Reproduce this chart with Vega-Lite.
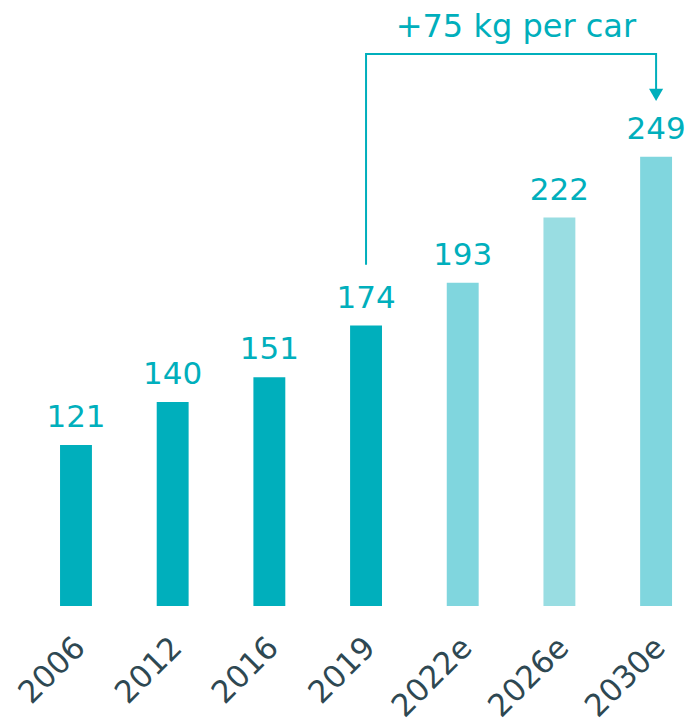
{
  "$schema": "https://vega.github.io/schema/vega-lite/v6.json",
  "width": 688,
  "height": 606,
  "autosize": {"type": "none"},
  "padding": {"left": 0, "top": 0, "right": 0, "bottom": 119},
  "background": "white",
  "config": {"view": {"stroke": null}, "font": "DejaVu Sans"},
  "datasets": {
    "bars": [
      {"year": "2006", "weight": 121, "kind": "actual"},
      {"year": "2012", "weight": 140, "kind": "actual"},
      {"year": "2016", "weight": 151, "kind": "actual"},
      {"year": "2019", "weight": 174, "kind": "actual"},
      {"year": "2022e", "weight": 193, "kind": "estimate"},
      {"year": "2026e", "weight": 222, "kind": "estimate2"},
      {"year": "2030e", "weight": 249, "kind": "estimate"}
    ],
    "bracket": [
      {"i": 1, "year": "2019", "v": 201},
      {"i": 2, "year": "2019", "v": 294.7},
      {"i": 3, "year": "2030e", "v": 294.7},
      {"i": 4, "year": "2030e", "v": 279}
    ],
    "arrow": [{"year": "2030e", "v": 276.5}],
    "note": [{"year": "2026e", "v": 302.3, "label": "+75 kg per car"}]
  },
  "encoding": {
    "x": {
      "field": "year",
      "type": "nominal",
      "sort": null,
      "scale": {"domain": ["2006", "2012", "2016", "2019", "2022e", "2026e", "2030e"], "paddingInner": 0.67, "paddingOuter": 0.393, "align": 0.79},
      "axis": {"title": null, "domain": false, "ticks": false, "labelAngle": -45, "labelFontSize": 31, "labelColor": "#2E4852", "labelPadding": 26, "labelOffset": -6, "labelFont": "DejaVu Sans"}
    }
  },
  "layer": [
    {
      "data": {"name": "bars"},
      "mark": {"type": "bar"},
      "encoding": {
        "y": {"field": "weight", "type": "quantitative", "scale": {"domain": [49.4, 318.7], "zero": false, "nice": false}, "axis": null},
        "y2": {"datum": 49.4},
        "color": {"field": "kind", "type": "nominal", "scale": {"domain": ["actual", "estimate", "estimate2"], "range": ["#00AFBC", "#80D6DE", "#99DDE2"]}, "legend": null}
      }
    },
    {
      "data": {"name": "bars"},
      "mark": {"type": "text", "fontSize": 31, "color": "#00AFBC", "baseline": "alphabetic", "dy": -18, "font": "DejaVu Sans"},
      "encoding": {
        "y": {"field": "weight", "type": "quantitative"},
        "text": {"field": "weight", "type": "quantitative"}
      }
    },
    {
      "data": {"name": "bracket"},
      "mark": {"type": "line", "color": "#00AFBC", "strokeWidth": 2, "interpolate": "linear"},
      "encoding": {
        "y": {"field": "v", "type": "quantitative"},
        "order": {"field": "i", "type": "quantitative"}
      }
    },
    {
      "data": {"name": "arrow"},
      "mark": {"type": "point", "shape": "triangle-down", "filled": true, "color": "#00AFBC", "size": 200, "opacity": 1},
      "encoding": {
        "y": {"field": "v", "type": "quantitative"}
      }
    },
    {
      "data": {"name": "note"},
      "mark": {"type": "text", "fontSize": 32, "color": "#00AFBC", "baseline": "alphabetic", "align": "center", "dx": -43.5, "font": "DejaVu Sans"},
      "encoding": {
        "y": {"field": "v", "type": "quantitative"},
        "text": {"field": "label", "type": "nominal"}
      }
    }
  ]
}
